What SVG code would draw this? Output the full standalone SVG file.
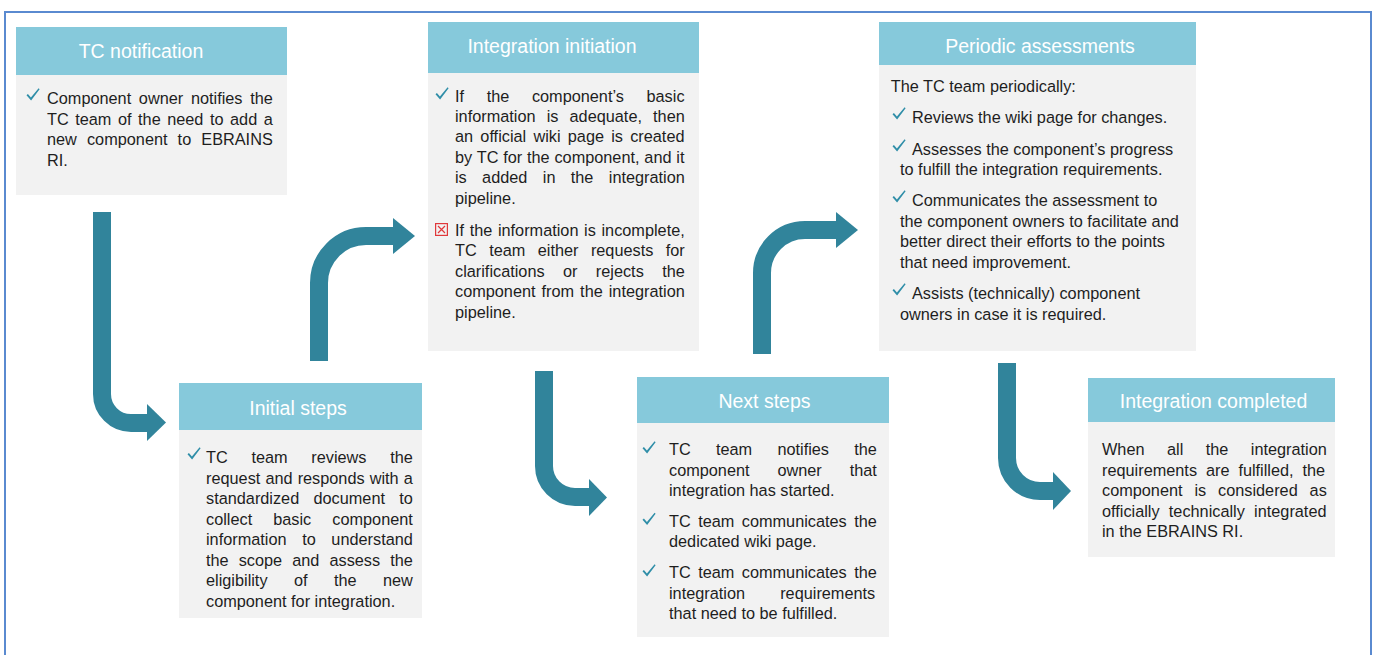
<svg xmlns="http://www.w3.org/2000/svg" xmlns:xlink="http://www.w3.org/1999/xlink" width="1377" height="655" viewBox="0 0 1377 655">
  <style>
    .hd { fill: #86C9DB; }
    .bd { fill: #F2F2F2; }
    .ht { font-family: "Liberation Sans", Arial, sans-serif; font-size: 19.5px; fill: #FFFFFF; text-anchor: middle; }
    .tx { font-family: "Liberation Sans", Arial, sans-serif; font-size: 16.3px; fill: #1E1E1E; }
    .conn { fill: none; stroke: #31849B; stroke-width: 18; }
    .head { fill: #31849B; }
  </style>
  <defs>
    <!-- tick bullet -->
    <path id="tick" d="M0.5,7.2 L1.9,6.1 L4.9,9.4 L12.6,0.3 L13.6,1.2 L5.1,12.6 Z" fill="#2F8EA8"/>
    <!-- cross bullet -->
    <g id="cross">
      <rect x="0.6" y="0.6" width="11.8" height="11.8" fill="none" stroke="#E0383B" stroke-width="1.2"/>
      <path d="M3,3 L10,10 M10,3 L3,10" stroke="#E0383B" stroke-width="1.2" fill="none"/>
    </g>
  </defs>

  <!-- frame -->
  <rect x="5" y="12" width="1366" height="700" fill="none" stroke="#5A8AD0" stroke-width="2"/>

  <!-- connectors -->
  <g id="connectors">
    <path class="conn" d="M102,212 V394 A29,29 0 0 0 131,423 H149"/>
    <polygon class="head" points="147,404 166,422.5 147,441"/>
    <path class="conn" d="M319,361 V283 A47,47 0 0 1 366,236 H395"/>
    <polygon class="head" points="393,218 415,236 393,254"/>
    <path class="conn" d="M544,371 V466 A31,31 0 0 0 575,497 H591"/>
    <polygon class="head" points="589,479 607,497.5 589,516"/>
    <path class="conn" d="M762,354 V273 A43,43 0 0 1 805,230 H838"/>
    <polygon class="head" points="836,212 858,230 836,248"/>
    <path class="conn" d="M1007,363 V458 A33,33 0 0 0 1040,491 H1055"/>
    <polygon class="head" points="1053,472 1071,491 1053,510"/>
  </g>

  <!-- TC notification -->
  <g id="tc-notification">
    <rect class="bd" x="16" y="27" width="271" height="168"/>
    <rect class="hd" x="16" y="27" width="271" height="48"/>
    <text class="ht" x="141" y="58">TC notification</text>
    <use xlink:href="#tick" x="26" y="88"/>
    <text class="tx" x="47" y="104" word-spacing="3.16">Component owner notifies the</text>
    <text class="tx" x="47" y="124.5" word-spacing="2.0">TC team of the need to add a</text>
    <text class="tx" x="47" y="145" word-spacing="5.57">new component to EBRAINS</text>
    <text class="tx" x="47" y="165.5">RI.</text>
  </g>

  <!-- Integration initiation -->
  <g id="integration-initiation">
    <rect class="bd" x="428" y="22" width="271" height="329"/>
    <rect class="hd" x="428" y="22" width="271" height="51"/>
    <text class="ht" x="552" y="53">Integration initiation</text>
    <use xlink:href="#tick" x="435" y="87"/>
    <text class="tx" x="455" y="101.5" word-spacing="18.08">If the component’s basic</text>
    <text class="tx" x="455" y="121.9" word-spacing="6.6">information is adequate, then</text>
    <text class="tx" x="455" y="142.3" word-spacing="2.7">an official wiki page is created</text>
    <text class="tx" x="455" y="162.7" word-spacing="0.28">by TC for the component, and it</text>
    <text class="tx" x="455" y="183.1" word-spacing="10.84">is added in the integration</text>
    <text class="tx" x="455" y="203.5">pipeline.</text>
    <use xlink:href="#cross" x="435" y="223"/>
    <text class="tx" x="455" y="236" word-spacing="1.1">If the information is incomplete,</text>
    <text class="tx" x="455" y="256.4" word-spacing="7.9">TC team either requests for</text>
    <text class="tx" x="455" y="276.8" word-spacing="13.86">clarifications or rejects the</text>
    <text class="tx" x="455" y="297.2" word-spacing="1.47">component from the integration</text>
    <text class="tx" x="455" y="317.6">pipeline.</text>
  </g>

  <!-- Initial steps -->
  <g id="initial-steps">
    <rect class="bd" x="179" y="383" width="243" height="235"/>
    <rect class="hd" x="179" y="383" width="243" height="47"/>
    <text class="ht" x="298" y="415">Initial steps</text>
    <use xlink:href="#tick" x="187" y="447"/>
    <text class="tx" x="206" y="463.3" word-spacing="19.18">TC team reviews the</text>
    <text class="tx" x="206" y="483.8" word-spacing="0.56">request and responds with a</text>
    <text class="tx" x="206" y="504.3" word-spacing="9.73">standardized document to</text>
    <text class="tx" x="206" y="524.8" word-spacing="16.53">collect basic component</text>
    <text class="tx" x="206" y="545.3" word-spacing="11.09">information to understand</text>
    <text class="tx" x="206" y="565.8" word-spacing="5.54">the scope and assess the</text>
    <text class="tx" x="206" y="586.3" word-spacing="21.89">eligibility of the new</text>
    <text class="tx" x="206" y="606.8">component for integration.</text>
  </g>

  <!-- Next steps -->
  <g id="next-steps">
    <rect class="bd" x="637" y="377" width="252" height="260"/>
    <rect class="hd" x="637" y="377" width="252" height="46"/>
    <text class="ht" x="764.5" y="408">Next steps</text>
    <use xlink:href="#tick" x="642" y="441"/>
    <text class="tx" x="669" y="455" word-spacing="20.72">TC team notifies the</text>
    <text class="tx" x="669" y="475.5" word-spacing="23.36">component owner that</text>
    <text class="tx" x="669" y="496">integration has started.</text>
    <use xlink:href="#tick" x="642" y="512.5"/>
    <text class="tx" x="669" y="526.7" word-spacing="2.91">TC team communicates the</text>
    <text class="tx" x="669" y="547.2">dedicated wiki page.</text>
    <use xlink:href="#tick" x="642" y="564"/>
    <text class="tx" x="669" y="578.2" word-spacing="2.91">TC team communicates the</text>
    <text class="tx" x="669" y="598.7" word-spacing="30.62">integration requirements</text>
    <text class="tx" x="669" y="619.2">that need to be fulfilled.</text>
  </g>

  <!-- Periodic assessments -->
  <g id="periodic-assessments">
    <rect class="bd" x="879" y="22" width="317" height="329"/>
    <rect class="hd" x="879" y="22" width="317" height="43"/>
    <text class="ht" x="1040" y="53">Periodic assessments</text>
    <text class="tx" x="890.7" y="92">The TC team periodically:</text>
    <use xlink:href="#tick" x="892" y="107"/>
    <text class="tx" x="912" y="122.5">Reviews the wiki page for changes.</text>
    <use xlink:href="#tick" x="892" y="139"/>
    <text class="tx" x="912" y="154.5">Assesses the component’s progress</text>
    <text class="tx" x="900" y="175">to fulfill the integration requirements.</text>
    <use xlink:href="#tick" x="892" y="190"/>
    <text class="tx" x="912" y="206">Communicates the assessment to</text>
    <text class="tx" x="900" y="226.5">the component owners to facilitate and</text>
    <text class="tx" x="900" y="247">better direct their efforts to the points</text>
    <text class="tx" x="900" y="267.5">that need improvement.</text>
    <use xlink:href="#tick" x="892" y="283"/>
    <text class="tx" x="912" y="299">Assists (technically) component</text>
    <text class="tx" x="900" y="319.5">owners in case it is required.</text>
  </g>

  <!-- Integration completed -->
  <g id="integration-completed">
    <rect class="bd" x="1088" y="378" width="247" height="179"/>
    <rect class="hd" x="1088" y="378" width="247" height="44"/>
    <text class="ht" x="1213.5" y="408">Integration completed</text>
    <text class="tx" x="1102" y="455" word-spacing="17.92">When all the integration</text>
    <text class="tx" x="1102" y="475.5" word-spacing="4.4">requirements are fulfilled, the</text>
    <text class="tx" x="1102" y="496" word-spacing="7.35">component is considered as</text>
    <text class="tx" x="1102" y="516.5" word-spacing="4.7">officially technically integrated</text>
    <text class="tx" x="1102" y="537">in the EBRAINS RI.</text>
  </g>
</svg>
